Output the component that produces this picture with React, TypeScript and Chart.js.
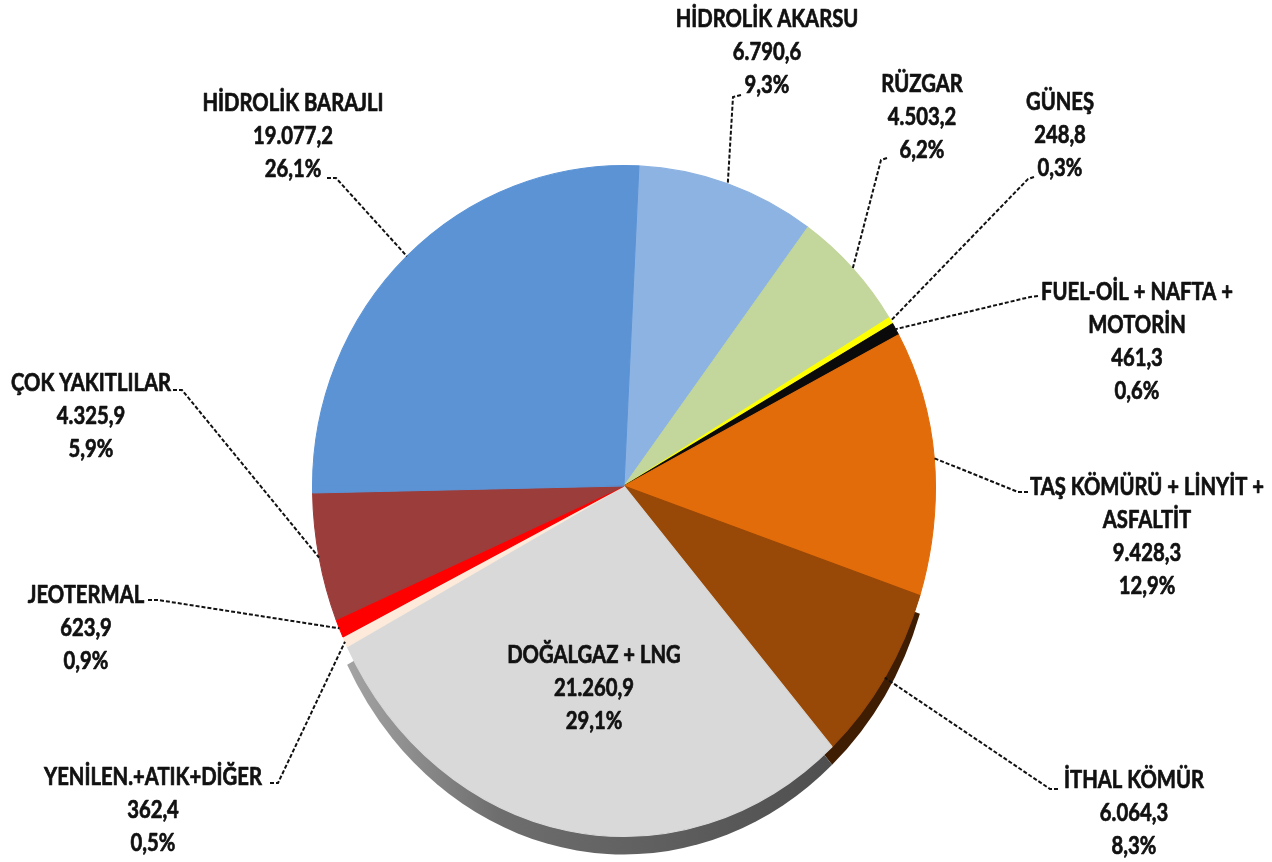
import React, { useEffect, useRef } from "react";
import { Chart, registerables } from "chart.js";

Chart.register(...registerables);

// ---- data (clockwise from the top) ----
const categories = [
  "HİDROLİK AKARSU",
  "RÜZGAR",
  "GÜNEŞ",
  "FUEL-OİL + NAFTA + MOTORİN",
  "TAŞ KÖMÜRÜ + LİNYİT + ASFALTİT",
  "İTHAL KÖMÜR",
  "DOĞALGAZ + LNG",
  "YENİLEN.+ATIK+DİĞER",
  "JEOTERMAL",
  "ÇOK YAKITLILAR",
  "HİDROLİK BARAJLI",
];
const labelLines = [
  ["HİDROLİK AKARSU"],
  ["RÜZGAR"],
  ["GÜNEŞ"],
  ["FUEL-OİL + NAFTA +", "MOTORİN"],
  ["TAŞ KÖMÜRÜ + LİNYİT +", "ASFALTİT"],
  ["İTHAL KÖMÜR"],
  ["DOĞALGAZ + LNG"],
  ["YENİLEN.+ATIK+DİĞER"],
  ["JEOTERMAL"],
  ["ÇOK YAKITLILAR"],
  ["HİDROLİK BARAJLI"],
];
const values = [6790.6, 4503.2, 248.8, 461.3, 9428.3, 6064.3, 21260.9, 362.4, 623.9, 4325.9, 19077.2];

// ---- styles ----
const colors = [
  "#8DB3E2", "#C3D69B", "#FFFF00", "#0A0A0A", "#E36C0A", "#984807",
  "#D9D9D9", "#FDEADA", "#FF0000", "#9B3D3B", "#5B93D5",
];
// 3D edge colour (null = edge not visible)
const rimColors: (string | null)[] = [
  null, null, null, null, null, "#3e1d03",
  "grey-gradient", null, null, null, null,
];

// label layout: [centerX, firstLineY]
const labelPos: [number, number][] = [
  [767, 19], [922, 84], [1060, 102], [1137, 292], [1147, 487], [1134, 780],
  [594, 655], [153, 777], [86, 595], [91, 383], [293, 103],
];
const leaderStarts: number[][][] = [
  [[741, 95], [733, 97]],
  [[887, 158], [881, 160]],
  [[1034, 177], [1028, 179]],
  [[1038, 296], [1030, 297]],
  [[1028, 492], [1018, 492]],
  [[1058, 789], [1050, 789]],
  [],
  [[270, 783], [278, 783]],
  [[148, 600], [158, 600]],
  [[173, 390], [182, 390]],
  [[327, 178], [336, 178]],
];

const LINE_H = 33;
const SY_UP = 321 / 312;
const SY_LOW = 351 / 312;
const RIM = 18;
const FONT = 'bold 24px Lato, "DejaVu Sans Condensed", sans-serif';
const REF_TEXT = "HİDROLİK BARAJLI";
const REF_WIDTH = 181;

function fmtNum(v: number): string {
  const [i, d] = v.toFixed(1).split(".");
  const withDots = i.replace(/\B(?=(\d{3})+(?!\d))/g, ".");
  return withDots + "," + d;
}

const perspectivePlugin = {
  id: "perspective",
  beforeDatasetsDraw(chart: any) {
    const arcs = chart.getDatasetMeta(0).data;
    if (!arcs.length) return;
    const ctx = chart.ctx;
    const cx = arcs[0].x;
    const cy = arcs[0].y;
    // 3D edge below the lower half
    ctx.save();
    ctx.beginPath();
    ctx.rect(0, cy, chart.width, chart.height);
    ctx.clip();
    ctx.translate(0, RIM);
    ctx.translate(cx, cy);
    ctx.scale(1, SY_LOW);
    ctx.translate(-cx, -cy);
    arcs.forEach((arc: any, i: number) => {
      if (!rimColors[i]) return;
      const p = arc.getProps(["x", "y", "startAngle", "endAngle", "outerRadius"], true);
      ctx.beginPath();
      ctx.moveTo(p.x, p.y);
      ctx.arc(p.x, p.y, p.outerRadius, p.startAngle, p.endAngle);
      ctx.closePath();
      if (rimColors[i] === "grey-gradient") {
        const g = ctx.createLinearGradient(p.x - p.outerRadius, 0, p.x + p.outerRadius * 0.7, 0);
        g.addColorStop(0, "#b0b0b0");
        g.addColorStop(0.35, "#6e6e6e");
        g.addColorStop(1, "#4e4e4e");
        ctx.fillStyle = g;
      } else {
        ctx.fillStyle = rimColors[i] as string;
      }
      ctx.fill();
    });
    ctx.restore();
    // upper half of the face
    ctx.save();
    ctx.beginPath();
    ctx.rect(0, 0, chart.width, cy + 0.5);
    ctx.clip();
    ctx.translate(cx, cy);
    ctx.scale(1, SY_UP);
    ctx.translate(-cx, -cy);
  },
  afterDatasetsDraw(chart: any) {
    const arcs = chart.getDatasetMeta(0).data;
    if (!arcs.length) return;
    const ctx = chart.ctx;
    ctx.restore();
    const cx = arcs[0].x;
    const cy = arcs[0].y;
    // lower half of the face
    ctx.save();
    ctx.beginPath();
    ctx.rect(0, cy - 0.5, chart.width, chart.height);
    ctx.clip();
    ctx.translate(cx, cy);
    ctx.scale(1, SY_LOW);
    ctx.translate(-cx, -cy);
    arcs.forEach((arc: any) => arc.draw(ctx, chart.chartArea));
    ctx.restore();
  },
};

const labelPlugin = {
  id: "pieLabels",
  afterDraw(chart: any) {
    const arcs = chart.getDatasetMeta(0).data;
    if (!arcs.length) return;
    const ctx = chart.ctx;
    const total = values.reduce((a, b) => a + b, 0);
    ctx.save();
    // leaders
    ctx.strokeStyle = "#111";
    ctx.lineWidth = 2;
    ctx.setLineDash([4, 2]);
    arcs.forEach((arc: any, i: number) => {
      const starts = leaderStarts[i];
      if (!starts.length) return;
      const p = arc.getProps(["x", "y", "startAngle", "endAngle", "outerRadius"], true);
      const mid = (p.startAngle + p.endAngle) / 2;
      const dx = Math.cos(mid) * p.outerRadius;
      const dyRaw = Math.sin(mid) * p.outerRadius;
      const dy = dyRaw > 0 ? dyRaw * SY_LOW : dyRaw * SY_UP;
      ctx.beginPath();
      ctx.moveTo(starts[0][0], starts[0][1]);
      for (let k = 1; k < starts.length; k++) ctx.lineTo(starts[k][0], starts[k][1]);
      ctx.lineTo(p.x + dx, p.y + dy);
      ctx.stroke();
    });
    ctx.setLineDash([]);
    // texts
    ctx.font = FONT;
    const sx = REF_WIDTH / ctx.measureText(REF_TEXT).width;
    ctx.fillStyle = "#111";
    ctx.strokeStyle = "#111";
    ctx.lineWidth = 0.7;
    ctx.lineJoin = "round";
    ctx.textAlign = "center";
    ctx.textBaseline = "middle";
    labelLines.forEach((lines, i) => {
      const pct = ((values[i] / total) * 100).toFixed(1).replace(".", ",") + "%";
      const all = [...lines, fmtNum(values[i]), pct];
      const [x, y] = labelPos[i];
      all.forEach((t, k) => {
        ctx.save();
        ctx.translate(x, y + k * LINE_H);
        ctx.scale(sx, 1);
        ctx.fillText(t, 0, 0);
        ctx.strokeText(t, 0, 0);
        ctx.restore();
      });
    });
    ctx.restore();
  },
};

export default function App() {
  const ref = useRef<HTMLCanvasElement | null>(null);
  useEffect(() => {
    if (!ref.current) return;
    const chart = new Chart(ref.current, {
      type: "pie",
      data: {
        labels: categories,
        datasets: [
          {
            data: values,
            backgroundColor: colors,
            borderColor: colors,
            borderWidth: 1,
            clip: false,
          } as any,
        ],
      },
      options: {
        animation: false,
        responsive: true,
        maintainAspectRatio: false,
        rotation: 2.75,
        layout: { padding: { left: 312, right: 336, top: 174, bottom: 64 } },
        plugins: {
          legend: { display: false },
          tooltip: { enabled: false },
        },
      },
      plugins: [perspectivePlugin, labelPlugin],
    });
    return () => chart.destroy();
  }, []);
  return (
    <div style={{ position: "fixed", left: 0, top: 0, width: 1272, height: 862, background: "#fff" }}>
      <canvas ref={ref} style={{ display: "block" }} />
    </div>
  );
}
